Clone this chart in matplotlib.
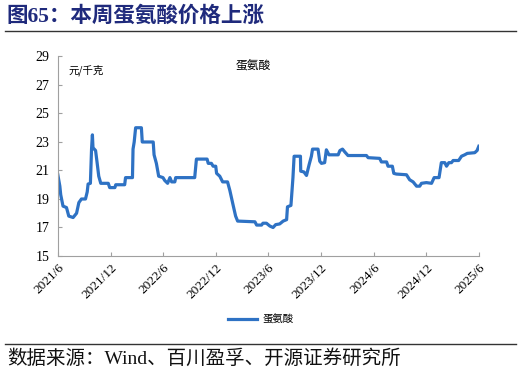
import matplotlib
matplotlib.use("Agg")
import matplotlib.pyplot as plt
import pandas as pd

plt.rcParams['font.family'] = ['Liberation Serif', 'Noto Sans CJK SC', 'DejaVu Sans']

dates = ["2021-06-01", "2021-06-08", "2021-06-11", "2021-06-19", "2021-07-01", "2021-07-09",
         "2021-07-24", "2021-08-05", "2021-08-13", "2021-08-22", "2021-09-05", "2021-09-11",
         "2021-09-14", "2021-09-22", "2021-09-26", "2021-09-29", "2021-10-01", "2021-10-10",
         "2021-10-15", "2021-10-21", "2021-10-28", "2021-11-23", "2021-11-28", "2021-12-16",
         "2021-12-19", "2022-01-19", "2022-01-22", "2022-02-15", "2022-02-17", "2022-02-21",
         "2022-02-26", "2022-03-18", "2022-03-21", "2022-04-28", "2022-05-01", "2022-05-09",
         "2022-05-17", "2022-06-01", "2022-06-07", "2022-06-17", "2022-06-25", "2022-07-01",
         "2022-07-12", "2022-07-15", "2022-09-19", "2022-09-25", "2022-11-01", "2022-11-05",
         "2022-11-16", "2022-11-22", "2022-12-01", "2022-12-04", "2022-12-15", "2022-12-25",
         "2023-01-11", "2023-01-19", "2023-01-30", "2023-02-08", "2023-02-15", "2023-04-16",
         "2023-04-22", "2023-05-09", "2023-05-14", "2023-05-26", "2023-06-07", "2023-06-18",
         "2023-06-27", "2023-07-11", "2023-07-23", "2023-08-04", "2023-08-07", "2023-08-19",
         "2023-08-23", "2023-08-26", "2023-08-30", "2023-09-21", "2023-09-22", "2023-10-03",
         "2023-10-12", "2023-10-21", "2023-10-29", "2023-11-02", "2023-11-21", "2023-11-27",
         "2023-12-03", "2023-12-14", "2023-12-20", "2023-12-29", "2024-01-30", "2024-02-05",
         "2024-02-14", "2024-02-22", "2024-03-04", "2024-05-07", "2024-05-13", "2024-06-22",
         "2024-06-28", "2024-07-16", "2024-07-21", "2024-08-05", "2024-08-10", "2024-08-19",
         "2024-09-23", "2024-10-04", "2024-10-16", "2024-10-28", "2024-11-08", "2024-11-14",
         "2024-12-01", "2024-12-19", "2024-12-28", "2025-01-14", "2025-01-22", "2025-02-03",
         "2025-02-09", "2025-02-17", "2025-02-26", "2025-03-04", "2025-03-23", "2025-04-02",
         "2025-04-13", "2025-04-22", "2025-05-18", "2025-05-26", "2025-06-01"]

methionine = [20.7, 19.9, 19.3, 18.5, 18.4, 17.8,
              17.7, 18.0, 18.75, 19.0, 19.0, 19.5,
              20.05, 20.1, 22.5, 23.5, 22.6, 22.4,
              21.6, 20.6, 20.1, 20.1, 19.8, 19.8,
              20.0, 20.0, 20.5, 20.5, 22.5, 23.0,
              24.0, 24.0, 23.0, 23.0, 22.1, 21.5,
              20.6, 20.5, 20.3, 20.1, 20.5, 20.2,
              20.2, 20.5, 20.5, 21.8, 21.8, 21.5,
              21.5, 21.3, 21.3, 20.8, 20.6, 20.2,
              20.2, 19.6, 18.6, 17.8, 17.45, 17.4,
              17.17, 17.17, 17.3, 17.3, 17.1, 17.0,
              17.2, 17.25, 17.45, 17.55, 18.45, 18.55,
              19.65, 20.5, 22.0, 22.0, 20.95, 20.9,
              20.65, 21.4, 22.0, 22.5, 22.5, 21.65,
              21.5, 21.55, 22.45, 22.1, 22.1, 22.4,
              22.5, 22.3, 22.05, 22.05, 21.9, 21.85,
              21.6, 21.6, 21.3, 21.3, 20.8, 20.75,
              20.7, 20.35, 20.2, 19.9, 19.9, 20.1,
              20.15, 20.1, 20.5, 20.5, 21.55, 21.55,
              21.3, 21.55, 21.55, 21.7, 21.7, 22.0,
              22.1, 22.2, 22.25, 22.4, 22.7]

xtick_labels = ["2021/6", "2021/12", "2022/6", "2022/12", "2023/6",
                "2023/12", "2024/6", "2024/12", "2025/6"]
xtick_dates = ["2021-06-01", "2021-12-01", "2022-06-01", "2022-12-01", "2023-06-01",
               "2023-12-01", "2024-06-01", "2024-12-01", "2025-06-01"]
yticks = [15, 17, 19, 21, 23, 25, 27, 29]

series_name = "蛋氨酸"
unit = "元/千克"
title = "图65：本周蛋氨酸价格上涨"
source = "数据来源：Wind、百川盈孚、开源证券研究所"

line_color = "#2E72C4"
cjk = ['Noto Sans CJK SC', 'DejaVu Sans']
serif_cjk = ['Liberation Serif', 'Noto Sans CJK SC', 'DejaVu Sans']

fig = plt.figure(figsize=(5.21, 3.74), dpi=100)
ax = fig.add_axes([0.111, 0.3155, 0.808, 0.5335])

x = pd.to_datetime(dates)
ax.plot(x, methionine, color=line_color, lw=2.3, solid_joinstyle='round', label=series_name)

ax.set_xlim(pd.Timestamp(xtick_dates[0]), pd.Timestamp(xtick_dates[-1]))
ax.set_ylim(15, 29)
ax.set_yticks(yticks)
ax.set_yticklabels([str(v) for v in yticks], fontsize=10, family='Liberation Serif')
ax.set_xticks(pd.to_datetime(xtick_dates))
ax.set_xticklabels(xtick_labels, rotation=45, ha='right', rotation_mode='anchor',
                   fontsize=9.5, family='Liberation Serif')

for s in ['top', 'right']:
    ax.spines[s].set_visible(False)
for s in ['left', 'bottom']:
    ax.spines[s].set_color('#A0A0A0')
    ax.spines[s].set_linewidth(0.8)
ax.tick_params(axis='both', direction='in', length=3, color='#A0A0A0', pad=4)
ax.tick_params(axis='y', pad=6)

ax.text(0.025, 0.93, unit, transform=ax.transAxes, fontsize=7.5, family=cjk,
        va='center', ha='left')
ax.text(0.465, 0.955, series_name, transform=ax.transAxes, fontsize=8.5, family=cjk,
        va='center', ha='center')

leg = fig.legend(loc='center', bbox_to_anchor=(0.5, 0.145), frameon=False,
                 prop={'family': cjk, 'size': 7.5}, handlelength=2.8, handletextpad=0.5)

fig.text(0.013, 0.957, title, fontsize=15.5, fontweight='bold', color='#1F2A7C',
         family=serif_cjk, va='center', ha='left')
fig.add_artist(plt.Line2D([0.01, 0.99], [0.917, 0.917], color='#333333', lw=1.0,
                          transform=fig.transFigure))
fig.add_artist(plt.Line2D([0.01, 0.99], [0.08, 0.08], color='#333333', lw=1.0,
                          transform=fig.transFigure))
fig.text(0.013, 0.042, source, fontsize=14, family=serif_cjk, va='center', ha='left',
         color='#111111')

fig.savefig("out.png", dpi=100)
